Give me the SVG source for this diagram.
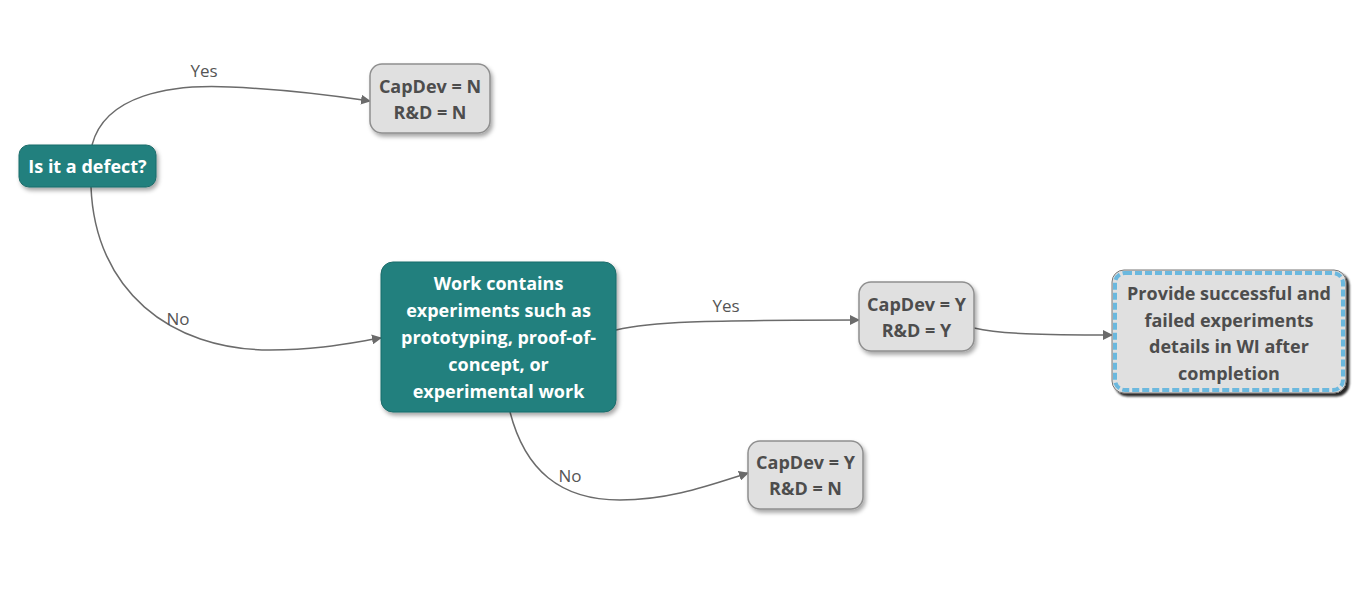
<svg xmlns="http://www.w3.org/2000/svg" width="1369" height="598" viewBox="0 0 1369 598">
<defs>
<filter id="sh" x="-20%" y="-20%" width="140%" height="140%"><feDropShadow dx="2" dy="3" stdDeviation="2" flood-color="#000" flood-opacity="0.35"/></filter>
<filter id="sh2" x="-20%" y="-20%" width="140%" height="140%"><feDropShadow dx="3" dy="3" stdDeviation="1" flood-color="#000" flood-opacity="0.85"/></filter>
<marker id="arr" viewBox="0 0 10 10" refX="9" refY="5" markerWidth="10" markerHeight="10" markerUnits="userSpaceOnUse" orient="auto"><path d="M0,0 L10,5 L0,10 z" fill="#6b6b6b"/></marker>
</defs>
<style>
.teal{fill:#23807E;stroke:#1d6c6a;stroke-width:1}
.gray{fill:#E0E0E0;stroke:#8f8f8f;stroke-width:1.5}
.wt{font-family:"Open Sans",sans-serif;font-weight:bold;font-size:18px;fill:#fff;text-anchor:middle}
.gt{font-family:"Open Sans",sans-serif;font-weight:bold;font-size:18px;fill:#4d4d4d;text-anchor:middle}
.lbl{font-family:"Open Sans",sans-serif;font-size:17px;fill:#555;text-anchor:middle}
.c{fill:none;stroke:#6b6b6b;stroke-width:1.5;marker-end:url(#arr)}
</style>
<rect width="1369" height="598" fill="#fff"/>
<g id="connectors">
<path class="c" d="M92,145 C105,95 170,84 230,87 C280,89 330,95 370,101"/>
<path class="c" d="M91,187 C95,290 170,350 270,350 C320,350 350,343 381,338"/>
<path class="c" d="M616,330 C650,322 700,320 859,320"/>
<path class="c" d="M974,328 C1000,334 1040,335 1112,335"/>
<path class="c" d="M510,412 C525,470 560,500 620,500 C670,500 710,485 748,473"/>
<text class="lbl" x="204" y="77">Yes</text>
<text class="lbl" x="178" y="325">No</text>
<text class="lbl" x="726" y="312">Yes</text>
<text class="lbl" x="570" y="482">No</text>
</g>
<g id="n-defect">
<rect class="teal" x="19" y="145" width="137" height="42" rx="10" filter="url(#sh)"/>
<text class="wt" x="87.5" y="172.5">Is it a defect?</text>
</g>
<g id="n-nn">
<rect class="gray" x="370" y="64" width="120" height="69" rx="12" filter="url(#sh)"/>
<text class="gt" x="430" y="92.5">CapDev = N</text>
<text class="gt" x="430" y="118.5">R&amp;D = N</text>
</g>
<g id="n-work">
<rect class="teal" x="381" y="262" width="235" height="150" rx="12" filter="url(#sh)"/>
<text class="wt" x="498.5" y="289.5">Work contains</text>
<text class="wt" x="498.5" y="316.5">experiments such as</text>
<text class="wt" x="498.5" y="343.5">prototyping, proof-of-</text>
<text class="wt" x="498.5" y="370.5">concept, or</text>
<text class="wt" x="498.5" y="397.5">experimental work</text>
</g>
<g id="n-yy">
<rect class="gray" x="859" y="282" width="115" height="69" rx="12" filter="url(#sh)"/>
<text class="gt" x="916.5" y="310.5">CapDev = Y</text>
<text class="gt" x="916.5" y="336.5">R&amp;D = Y</text>
</g>
<g id="n-provide">
<rect x="1112" y="270" width="234" height="123" rx="12" fill="#E0E0E0" stroke="#777" stroke-width="1" filter="url(#sh2)"/>
<rect x="1115" y="273" width="228" height="117" rx="10" fill="none" stroke="#6BB8DE" stroke-width="4" stroke-dasharray="7,3"/>
<text class="gt" x="1229" y="299.5">Provide successful and</text>
<text class="gt" x="1229" y="326.5">failed experiments</text>
<text class="gt" x="1229" y="352.5">details in WI after</text>
<text class="gt" x="1229" y="379.5">completion</text>
</g>
<g id="n-yn">
<rect class="gray" x="748" y="441" width="115" height="68" rx="12" filter="url(#sh)"/>
<text class="gt" x="805.5" y="468.5">CapDev = Y</text>
<text class="gt" x="805.5" y="494.5">R&amp;D = N</text>
</g>
</svg>
